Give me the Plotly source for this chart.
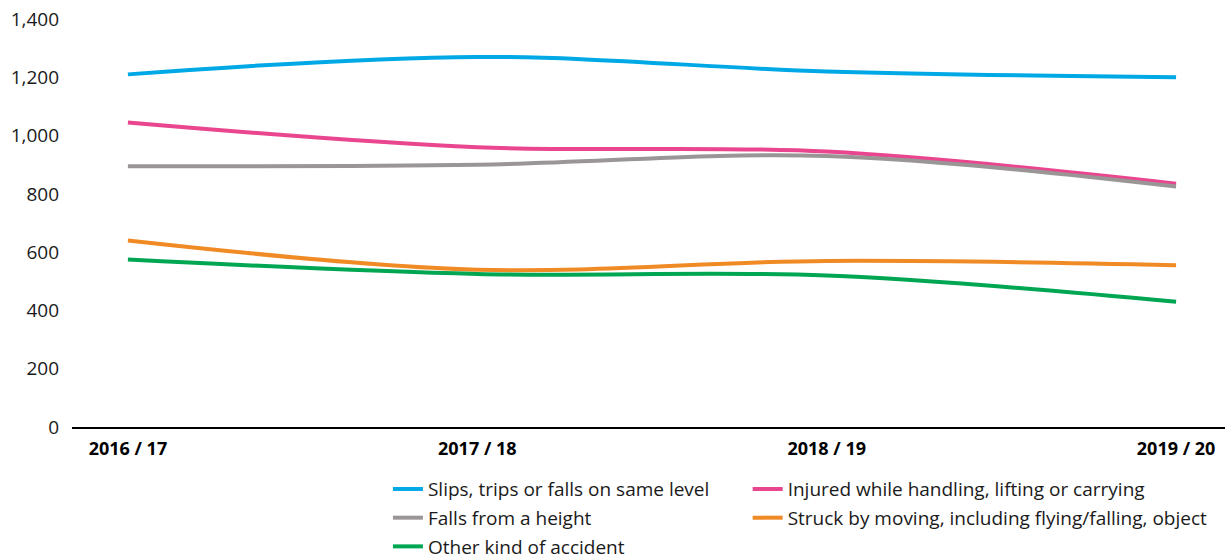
import plotly.graph_objects as go

years = ["2016 / 17", "2017 / 18", "2018 / 19", "2019 / 20"]

slips = [1210, 1270, 1220, 1200]
handling = [1045, 960, 945, 835]
height_falls = [895, 900, 930, 825]
struck = [640, 540, 570, 555]
other = [575, 525, 520, 430]

y_ticks = [0, 200, 400, 600, 800, 1000, 1200, 1400]

# (label, values, colour, legend column)
series = [
    ("Slips, trips or falls on same level", slips, "#00A9E6", "legend"),
    ("Injured while handling, lifting or carrying", handling, "#E9468F", "legend2"),
    ("Falls from a height", height_falls, "#9A9696", "legend"),
    ("Struck by moving, including flying/falling, object", struck, "#F08A24", "legend2"),
    ("Other kind of accident", other, "#00A651", "legend"),
]

fig = go.Figure()
for name, vals, color, leg in series:
    fig.add_trace(go.Scatter(
        x=years, y=vals, name=name, mode="lines",
        legend=leg, legendgroup=name,
        line=dict(color=color, width=4, shape="spline", smoothing=1.0),
    ))

legend_style = dict(
    orientation="v", yref="container", y=0.159, yanchor="top", xanchor="left",
    font=dict(size=19, color="#1a1a1a"),
    itemwidth=30, tracegroupgap=1,
    bgcolor="rgba(0,0,0,0)", borderwidth=0,
)

fig.update_layout(
    width=1225, height=559,
    margin=dict(l=72, r=0, t=19, b=132),
    paper_bgcolor="white", plot_bgcolor="white",
    font=dict(family="Open Sans, Noto Sans, sans-serif", color="#1a1a1a"),
    showlegend=True,
    legend=dict(x=0.274, **legend_style),
    legend2=dict(x=0.586, **legend_style),
    xaxis=dict(
        type="category", range=[-0.16, 3.14],
        showgrid=False, showline=True, linecolor="black", linewidth=2,
        ticks="", tickfont=dict(size=18, color="black", weight="bold"),
        ticklabelstandoff=4, zeroline=False,
    ),
    yaxis=dict(
        range=[0, 1400], tickvals=y_ticks, tickformat=",",
        showgrid=False, showline=False, zeroline=False,
        tickfont=dict(size=19, color="#1a1a1a"),
        ticklabelstandoff=12,
    ),
)

fig.write_html("out.html")
